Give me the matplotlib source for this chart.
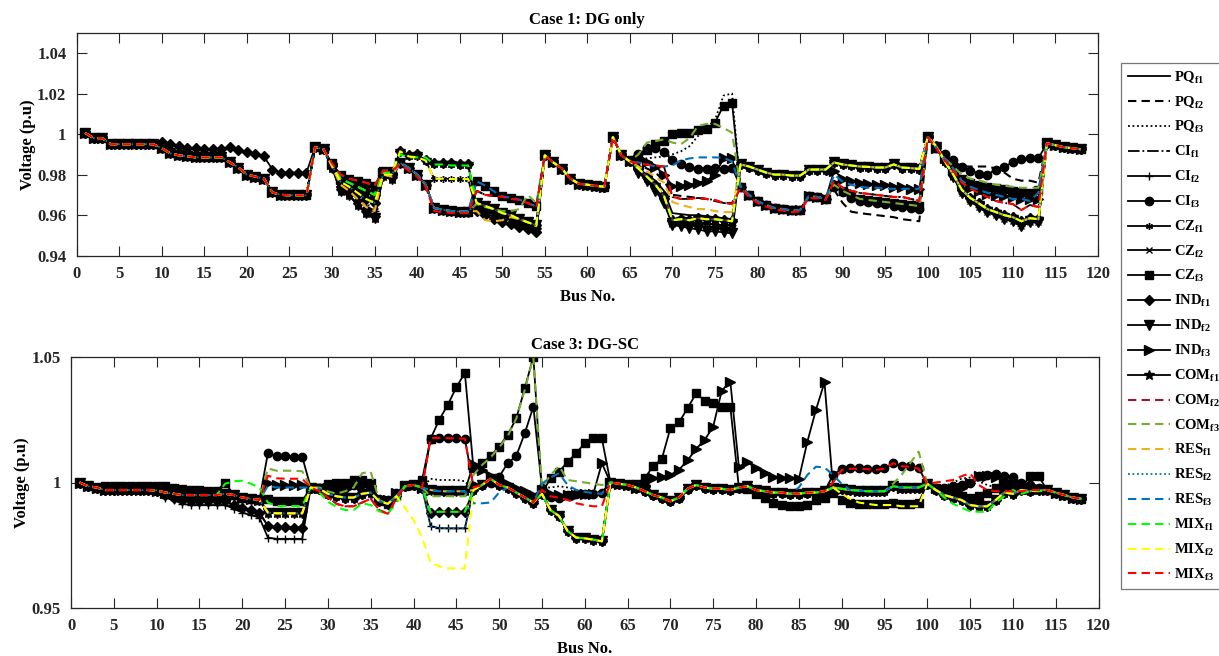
import numpy as np
import matplotlib
matplotlib.use("Agg")
import matplotlib.pyplot as plt

plt.rcParams['font.family'] = 'Liberation Serif'
plt.rcParams['font.weight'] = 'bold'
plt.rcParams['mathtext.fontset'] = 'custom'
plt.rcParams['mathtext.rm'] = 'Liberation Serif:bold'
plt.rcParams['mathtext.it'] = 'Liberation Serif:bold'
plt.rcParams['mathtext.bf'] = 'Liberation Serif:bold'

buses = np.arange(1, 119)

series_names = ['PQf1', 'PQf2', 'PQf3', 'CIf1', 'CIf2', 'CIf3', 'CZf1', 'CZf2', 'CZf3',
                'INDf1', 'INDf2', 'INDf3', 'COMf1', 'COMf2', 'COMf3',
                'RESf1', 'RESf2', 'RESf3', 'MIXf1', 'MIXf2', 'MIXf3']
legend_labels = [r'$\mathrm{PQ_{f1}}$', r'$\mathrm{PQ_{f2}}$', r'$\mathrm{PQ_{f3}}$',
                 r'$\mathrm{CI_{f1}}$', r'$\mathrm{CI_{f2}}$', r'$\mathrm{CI_{f3}}$',
                 r'$\mathrm{CZ_{f1}}$', r'$\mathrm{CZ_{f2}}$', r'$\mathrm{CZ_{f3}}$',
                 r'$\mathrm{IND_{f1}}$', r'$\mathrm{IND_{f2}}$', r'$\mathrm{IND_{f3}}$',
                 r'$\mathrm{COM_{f1}}$', r'$\mathrm{COM_{f2}}$', r'$\mathrm{COM_{f3}}$',
                 r'$\mathrm{RES_{f1}}$', r'$\mathrm{RES_{f2}}$', r'$\mathrm{RES_{f3}}$',
                 r'$\mathrm{MIX_{f1}}$', r'$\mathrm{MIX_{f2}}$', r'$\mathrm{MIX_{f3}}$']

# ---------------- Case 1: DG only ----------------
# main bundle, bus 1..118
c1_base = [
    1.0005, 0.998, 0.998, 0.995, 0.995, 0.995, 0.995, 0.995, 0.995,
    0.993, 0.9905, 0.9895, 0.989, 0.9885, 0.9885, 0.9885, 0.9885, 0.986, 0.9835,
    0.980, 0.979, 0.978, 0.9712, 0.970, 0.9698, 0.9698, 0.9698,
    0.9935, 0.9925,
    0.9845, 0.9765, 0.974, 0.971, 0.968, 0.966, 0.980, 0.980,
    0.9858, 0.9833, 0.980, 0.975, 0.9635, 0.9627, 0.962, 0.9618, 0.9618,
    0.966, 0.9645, 0.963, 0.961, 0.960, 0.958, 0.9565, 0.955,
    0.9895, 0.986, 0.983, 0.978, 0.9755, 0.975, 0.9745, 0.974, 0.9985, 0.9895, 0.9865,
    0.983, 0.980, 0.977, 0.972, 0.961, 0.9605, 0.960, 0.960, 0.9595, 0.959, 0.9585, 0.958,
    0.985, 0.984, 0.9825, 0.981, 0.980, 0.980, 0.9795, 0.9795, 0.9825, 0.9825, 0.9825,
    0.986, 0.985, 0.9845, 0.984, 0.9838, 0.9835, 0.9835, 0.985, 0.9835, 0.9832, 0.9828,
    0.9985,
    0.994, 0.9865, 0.980, 0.9725, 0.9685, 0.9658, 0.963, 0.9615, 0.960, 0.959, 0.957, 0.9585, 0.958,
    0.9955, 0.9945, 0.9935, 0.993, 0.9925,
]
# segments that differ from the bundle (key = first bus)
c1_10_ind = [0.996, 0.995, 0.994, 0.993, 0.993, 0.9925, 0.9925, 0.9925, 0.9935,
             0.992, 0.991, 0.990, 0.989, 0.9825, 0.981, 0.981, 0.981, 0.981]
c1_30_A = [0.9855, 0.980, 0.978, 0.977, 0.976, 0.9745, 0.982, 0.982]
c1_30_B = [0.985, 0.978, 0.976, 0.974, 0.972, 0.970, 0.981, 0.981]
c1_30_D = [0.984, 0.975, 0.972, 0.968, 0.964, 0.962, 0.980, 0.979]
c1_30_E = [0.9835, 0.972, 0.970, 0.965, 0.961, 0.9585, 0.9795, 0.978]
c1_38_hi = [0.9915, 0.9895, 0.990, 0.987, 0.9858, 0.9855, 0.9855, 0.985, 0.985]
c1_38_hi2 = [0.990, 0.9885, 0.9885, 0.9885, 0.985, 0.985, 0.9845, 0.9845, 0.9845]
c1_38_mid = [0.9915, 0.989, 0.9885, 0.987, 0.978, 0.978, 0.9778, 0.9778, 0.9778]
c1_38_lo2 = [0.985, 0.982, 0.979, 0.974, 0.962, 0.9615, 0.961, 0.961, 0.961]
c1_47_S1 = [0.9767, 0.9746, 0.9718, 0.9693, 0.9685, 0.9677, 0.966, 0.9643]
c1_47_S2 = [0.972, 0.970, 0.9695, 0.969, 0.968, 0.9675, 0.966, 0.964]
c1_47_S3 = [0.9655, 0.964, 0.963, 0.962, 0.962, 0.963, 0.970, 0.966]
c1_47_S5 = [0.9645, 0.963, 0.9615, 0.9595, 0.958, 0.956, 0.954, 0.9525]
c1_47_S6 = [0.962, 0.960, 0.958, 0.9565, 0.9555, 0.954, 0.953, 0.9515]
c1_47_S7 = [0.962, 0.9575, 0.957, 0.9575, 0.959, 0.958, 0.9565, 0.9545]
c1_66_sq = [0.989, 0.992, 0.995, 0.9965, 1.0, 1.0005, 1.0007, 1.002, 1.0024, 1.0057, 1.014, 1.0155]
c1_66_dot = [0.988, 0.988, 0.9885, 0.989, 0.990, 0.9915, 0.994, 0.999, 1.003, 1.007, 1.019, 1.020]
c1_66_olive = [0.990, 0.9958, 0.9965, 0.9974, 0.9958, 0.995, 0.998, 1.004, 1.005, 1.005, 1.003, 1.0007]
c1_66_circ = [0.990, 0.993, 0.993, 0.991, 0.987, 0.985, 0.984, 0.983, 0.983, 0.9835, 0.983, 0.9835]
c1_66_blue = [0.986, 0.985, 0.984, 0.984, 0.9845, 0.987, 0.988, 0.9885, 0.9885, 0.9885, 0.9883, 0.9865]
c1_66_red = [0.9855, 0.985, 0.9845, 0.984, 0.969, 0.968, 0.968, 0.9685, 0.968, 0.9675, 0.966, 0.9655]
c1_66_tri = [0.987, 0.986, 0.984, 0.980, 0.9745, 0.9745, 0.975, 0.976, 0.977, 0.980, 0.988, 0.988]
c1_66_dash = [0.985, 0.983, 0.981, 0.977, 0.970, 0.9695, 0.969, 0.9685, 0.968, 0.967, 0.966, 0.966]
c1_66_orange = [0.984, 0.9815, 0.979, 0.976, 0.9665, 0.965, 0.964, 0.963, 0.963, 0.962, 0.9615, 0.9615]
c1_66_g1 = [0.983, 0.979, 0.975, 0.9695, 0.9575, 0.958, 0.9575, 0.9585, 0.958, 0.958, 0.9575, 0.957]
c1_66_g2 = [0.982, 0.978, 0.9735, 0.968, 0.9555, 0.956, 0.9555, 0.9565, 0.956, 0.9555, 0.955, 0.955]
c1_66_g3 = [0.981, 0.977, 0.972, 0.966, 0.955, 0.9545, 0.9535, 0.953, 0.952, 0.952, 0.9515, 0.951]
c1_78_lo = [0.974, 0.970, 0.9668, 0.965, 0.9635, 0.963, 0.9623, 0.9625, 0.9693, 0.969, 0.968]
c1_78_lo2 = [0.9735, 0.969, 0.966, 0.9642, 0.9628, 0.9622, 0.9615, 0.9618, 0.9685, 0.9683, 0.9675]
c1_89_tri = [0.982, 0.978, 0.977, 0.976, 0.9755, 0.975, 0.975, 0.974, 0.974, 0.973, 0.973]
c1_89_blue = [0.980, 0.9765, 0.975, 0.974, 0.9735, 0.9735, 0.973, 0.973, 0.973, 0.973, 0.973]
c1_89_red = [0.977, 0.9735, 0.972, 0.971, 0.9705, 0.970, 0.9695, 0.969, 0.969, 0.968, 0.967]
c1_89_olive = [0.975, 0.972, 0.970, 0.968, 0.9675, 0.967, 0.9665, 0.966, 0.9655, 0.965, 0.9645]
c1_89_circ = [0.974, 0.9715, 0.9685, 0.967, 0.9665, 0.966, 0.9655, 0.9645, 0.964, 0.9635, 0.963]
c1_89_dash = [0.9725, 0.966, 0.9617, 0.961, 0.9605, 0.960, 0.9595, 0.959, 0.958, 0.9575, 0.957]
c1_101_circ = [0.993, 0.990, 0.987, 0.984, 0.982, 0.9805, 0.980, 0.9825, 0.984, 0.986, 0.9875, 0.988, 0.988]
c1_101_dash = [0.993, 0.989, 0.986, 0.984, 0.984, 0.984, 0.984, 0.983, 0.981, 0.978, 0.977, 0.977, 0.976]
c1_101_olive = [0.993, 0.988, 0.984, 0.980, 0.978, 0.977, 0.976, 0.975, 0.9745, 0.974, 0.9735, 0.9735, 0.9735]
c1_101_sq = [0.993, 0.988, 0.983, 0.978, 0.976, 0.975, 0.974, 0.9735, 0.973, 0.972, 0.9715, 0.971, 0.9725]
c1_101_blue = [0.993, 0.988, 0.983, 0.977, 0.974, 0.9725, 0.971, 0.970, 0.969, 0.968, 0.968, 0.967, 0.971]
c1_101_red = [0.993, 0.987, 0.982, 0.976, 0.973, 0.971, 0.969, 0.967, 0.966, 0.9655, 0.9625, 0.965, 0.964]
c1_101_tri = [0.993, 0.988, 0.9825, 0.976, 0.9735, 0.972, 0.9705, 0.970, 0.9695, 0.969, 0.968, 0.968, 0.968]
c1_101_low = [0.9935, 0.986, 0.979, 0.971, 0.967, 0.964, 0.9615, 0.960, 0.958, 0.957, 0.9545, 0.9565, 0.9565]

c1_edits = {
    'PQf1': {},
    'PQf2': {47: c1_47_S2, 66: c1_66_dash, 78: c1_78_lo, 89: c1_89_dash, 101: c1_101_dash},
    'PQf3': {66: c1_66_dot, 78: c1_78_lo2, 89: c1_89_red, 101: c1_101_tri},
    'CIf1': {47: c1_47_S2, 66: c1_66_red, 78: c1_78_lo2, 89: c1_89_red, 101: c1_101_red},
    'CIf2': {30: c1_30_D, 66: c1_66_g2, 101: c1_101_low},
    'CIf3': {30: c1_30_B, 66: c1_66_circ, 78: c1_78_lo, 89: c1_89_circ, 101: c1_101_circ},
    'CZf1': {30: c1_30_E, 38: c1_38_mid, 47: c1_47_S6, 66: c1_66_g2},
    'CZf2': {30: c1_30_D, 47: c1_47_S5, 66: c1_66_g2, 101: c1_101_low},
    'CZf3': {30: c1_30_A, 47: c1_47_S1, 66: c1_66_sq, 78: c1_78_lo, 89: c1_89_olive, 101: c1_101_sq},
    'INDf1': {10: c1_10_ind, 38: c1_38_hi, 47: c1_47_S6, 66: c1_66_g1},
    'INDf2': {30: c1_30_E, 66: c1_66_g3, 101: c1_101_low},
    'INDf3': {30: c1_30_B, 66: c1_66_tri, 78: c1_78_lo, 89: c1_89_tri, 101: c1_101_tri},
    'COMf1': {30: c1_30_E, 38: c1_38_hi, 47: c1_47_S5, 66: c1_66_g1},
    'COMf2': {30: c1_30_D, 66: c1_66_g1},
    'COMf3': {30: c1_30_B, 47: c1_47_S3, 66: c1_66_olive, 78: c1_78_lo, 89: c1_89_olive, 101: c1_101_olive},
    'RESf1': {30: c1_30_D, 47: c1_47_S7, 66: c1_66_orange},
    'RESf2': {66: c1_66_g1},
    'RESf3': {30: c1_30_A, 47: c1_47_S1, 66: c1_66_blue, 78: c1_78_lo, 89: c1_89_blue, 101: c1_101_blue},
    'MIXf1': {30: c1_30_B, 38: c1_38_hi2, 66: c1_66_g1},
    'MIXf2': {38: c1_38_mid, 66: c1_66_g1},
    'MIXf3': {30: c1_30_A, 38: c1_38_lo2, 47: c1_47_S2, 66: c1_66_red, 78: c1_78_lo2, 89: c1_89_red, 101: c1_101_red},
}

# ---------------- Case 3: DG-SC ----------------
c3_base = [
    1.000, 0.9985, 0.998, 0.997, 0.997, 0.997, 0.997, 0.997, 0.997, 0.9968, 0.996,
    0.9955, 0.995, 0.995, 0.995, 0.995, 0.995, 0.9955, 0.995, 0.994, 0.9935, 0.993,
    0.988, 0.9877, 0.9877, 0.9877, 0.9877,
    0.998, 0.9975, 0.9955, 0.9945, 0.994, 0.994, 0.9955, 0.996, 0.9925, 0.9915, 0.9945, 0.9985, 0.999, 0.998,
    0.997, 0.9965, 0.9965, 0.9965, 0.9965,
    0.997, 0.999, 1.0015, 0.999, 0.998, 0.996, 0.994, 0.992,
    0.9955, 0.989, 0.9866, 0.9806, 0.978, 0.9777, 0.9772, 0.9765,
    1.000, 0.9995, 0.999,
    0.998, 0.9965, 0.995, 0.994, 0.9925, 0.994, 0.9975, 0.999, 0.998, 0.9975, 0.9975, 0.997,
    0.998, 0.9985, 0.997, 0.9965, 0.996, 0.996, 0.9955, 0.9955, 0.996, 0.996, 0.9965,
    0.998, 0.9975, 0.997, 0.9968, 0.9965, 0.9965, 0.9965, 0.9985, 0.998, 0.998, 0.998,
    0.9995,
    0.997, 0.995, 0.994, 0.993, 0.991, 0.9905, 0.9905, 0.993, 0.996, 0.9955, 0.997, 0.9965, 0.997,
    0.997, 0.996, 0.995, 0.994, 0.9935,
]
c3_4_sq = [0.9987, 0.9987, 0.9987, 0.9987, 0.9987, 0.9987, 0.9988, 0.9985, 0.998,
           0.9975, 0.997, 0.997, 0.9968, 0.9965, 1.0]
c3_10_low = [0.9962, 0.994, 0.993, 0.9915, 0.991, 0.991, 0.991, 0.991, 0.991, 0.9895, 0.988, 0.987, 0.986]
c3_10_low2 = [0.9965, 0.995, 0.994, 0.993, 0.9925, 0.9925, 0.9925, 0.9925, 0.9925, 0.991, 0.990, 0.989, 0.988]
c3_18_green = [0.9995, 1.0005, 1.0007, 0.9995, 0.998]
c3_23_circ = [1.0118, 1.0105, 1.0105, 1.0103, 1.0103]
c3_23_olive = [1.0056, 1.0047, 1.0047, 1.0047, 1.0045]
c3_23_red = [1.0027, 1.0017, 1.0015, 1.0015, 1.0015]
c3_23_tri = [1.0, 0.999, 0.999, 0.999, 0.999]
c3_23_blue = [0.9987, 0.998, 0.998, 0.998, 0.998]
c3_23_sq = [0.9936, 0.9926, 0.9926, 0.9926, 0.9926]
c3_23_green = [0.992, 0.9906, 0.9906, 0.9906, 0.9906]
c3_23_dia = [0.9826, 0.9822, 0.9822, 0.982, 0.982]
c3_23_plus = [0.978, 0.9775, 0.9775, 0.9775, 0.9775]
c3_29_sq = [0.998, 0.9995, 0.9997, 1.0, 1.001, 1.001, 1.0]
c3_29_olive = [0.998, 0.9965, 0.9955, 0.9965, 0.998, 1.0037, 1.0043, 0.993]
c3_29_green = [0.996, 0.9923, 0.9903, 0.989, 0.989, 0.9917, 0.991, 0.9885, 0.9875, 0.992]
c3_29_maroon = [0.9965, 0.994, 0.9915, 0.9905, 0.9905, 0.992, 0.9935, 0.989, 0.9875, 0.9935]
c3_29_hi = [0.998, 0.998, 0.9975, 0.998, 0.999, 0.9995, 0.9985, 0.9935, 0.993, 0.996]
c3_38_yellow = [0.9945, 0.990, 0.985, 0.978, 0.968, 0.9665, 0.9657, 0.9657, 0.9657]
c3_41_sq = [1.001, 1.0175, 1.025, 1.031, 1.038, 1.0438, 1.0057, 1.0077, 1.0105, 1.0143, 1.019,
            1.0256, 1.0376, 1.0503, 0.9957, 1.0017, 1.0043, 1.0083, 1.0117, 1.0157, 1.0177, 1.0176]
c3_42_circ = [1.0175, 1.0178, 1.0178, 1.0177, 1.0175, 0.9985, 0.999, 1.0, 1.0023, 1.0077, 1.0106,
              1.0197, 1.0303, 0.998, 0.9943, 0.9937, 0.995, 0.9955, 0.9955, 0.9955, 0.9957]
c3_42_red = [1.0178, 1.0178, 1.0177, 1.0176, 1.0175, 0.998]
c3_42_dot = [1.0015, 1.001, 1.001, 1.001, 1.0005]
c3_42_olive = [0.9945, 0.9945, 0.9945, 0.9945, 0.9945, 1.003, 1.007, 1.010, 1.014, 1.0185, 1.0255,
               1.037, 1.050, 0.998, 1.003, 1.0065, 1.001, 1.0005, 1.0, 0.9995, 0.999]
c3_42_green = [0.988, 0.9883, 0.9883, 0.9883, 0.9883]
c3_42_plus = [0.9825, 0.9818, 0.9817, 0.9817, 0.9817]
c3_47_blue = [0.9917, 0.9917, 0.992, 0.996]
c3_47_tri = [1.0075, 1.005, 1.0025, 1.0005, 0.9995, 0.998, 0.9965, 0.995,
             0.997, 0.9955, 0.995, 0.995, 0.9952, 0.9955, 0.9955, 1.0077]
c3_55_red = [0.997, 0.9945, 0.994, 0.993, 0.9917, 0.991, 0.9905, 0.9905]
c3_55_blue = [0.9995, 1.002, 1.0037, 0.999, 0.997, 0.9963, 0.9957, 0.9955]
c3_55_dot = [0.998, 0.998, 0.9985, 0.998, 0.997, 0.9965, 0.996, 0.996]
c3_66_sq = [0.9995, 1.0017, 1.0066, 1.0094, 1.0217, 1.024, 1.0296, 1.0356, 1.0327, 1.0319, 1.0303, 1.0303,
            0.998, 0.9975, 0.9955, 0.994, 0.992, 0.991, 0.9908, 0.9908, 0.991, 0.993, 0.994,
            0.996, 0.993, 0.9917, 0.9915, 0.9915, 0.9915, 0.9915, 0.992, 0.9915, 0.9915, 0.992]
c3_66_tri = [0.998, 0.999, 1.0017, 1.0023, 1.003, 1.0051, 1.0088, 1.0134, 1.017, 1.0223, 1.0367, 1.0403,
             1.0063, 1.0083, 1.0056, 1.0037, 1.0023, 1.0017, 1.0017, 1.0013, 1.0163, 1.029, 1.040]
c3_85_blue = [0.998, 1.003, 1.0063, 1.006, 1.003, 0.9995]
c3_89_circ = [1.003, 1.0055, 1.0057, 1.0057, 1.0055, 1.0053, 1.0057, 1.0077, 1.0067, 1.0065, 1.0057]
c3_89_red = [1.0, 1.005, 1.0055, 1.0055, 1.0053, 1.005, 1.0055, 1.0077, 1.0065, 1.0063, 1.0055]
c3_90_yellow = [0.9955, 0.9935, 0.992, 0.9915, 0.991, 0.991, 0.991, 0.9905, 0.9905, 0.9905]
c3_96_olive = [0.9995, 1.003, 1.0077, 1.0123]
c3_101_circ = [0.998, 0.998, 0.9985, 0.999, 1.0, 1.0025, 1.003, 1.0035, 1.0025, 1.002, 1.0, 0.999, 0.998]
c3_101_sq = [0.998, 0.996, 0.995, 0.9945, 0.994, 0.9945, 0.996, 0.998, 0.9985, 0.999, 0.998, 1.0025, 1.0025]
c3_101_tri = [0.998, 0.997, 0.997, 0.998, 1.0, 1.0025, 1.0025, 1.002, 1.001, 0.999, 0.998, 0.9975, 0.9975]
c3_101_red = [1.0, 1.0005, 1.001, 1.0025, 1.0037, 0.999, 0.997, 0.9965, 0.9965, 0.9965, 0.9965, 0.997, 0.997]
c3_101_dot = [0.998, 0.9985, 1.0, 1.0015, 1.002, 1.0005, 0.999, 0.998, 0.998, 0.997, 0.997, 0.997, 0.997]
c3_101_green = [0.997, 0.994, 0.9915, 0.990, 0.9885, 0.9883, 0.9883, 0.992, 0.9945, 0.997, 0.9955, 0.9965, 0.9965]

c3_edits = {
    'PQf1': {},
    'PQf2': {},
    'PQf3': {42: c3_42_dot, 55: c3_55_dot, 101: c3_101_dot},
    'CIf1': {},
    'CIf2': {10: c3_10_low, 23: c3_23_plus, 42: c3_42_plus},
    'CIf3': {23: c3_23_circ, 29: c3_29_hi, 42: c3_42_circ, 89: c3_89_circ, 101: c3_101_circ},
    'CZf1': {10: c3_10_low2, 23: c3_23_dia},
    'CZf2': {},
    'CZf3': {4: c3_4_sq, 23: c3_23_sq, 29: c3_29_sq, 41: c3_41_sq, 66: c3_66_sq, 101: c3_101_sq},
    'INDf1': {10: c3_10_low2, 23: c3_23_dia, 42: c3_42_green},
    'INDf2': {},
    'INDf3': {23: c3_23_tri, 29: c3_29_hi, 47: c3_47_tri, 66: c3_66_tri, 101: c3_101_tri},
    'COMf1': {},
    'COMf2': {29: c3_29_maroon, 42: c3_42_green},
    'COMf3': {23: c3_23_olive, 29: c3_29_olive, 42: c3_42_olive, 96: c3_96_olive},
    'RESf1': {},
    'RESf2': {42: c3_42_plus},
    'RESf3': {23: c3_23_blue, 47: c3_47_blue, 55: c3_55_blue, 85: c3_85_blue},
    'MIXf1': {18: c3_18_green, 23: c3_23_green, 29: c3_29_green, 42: c3_42_green, 101: c3_101_green},
    'MIXf2': {38: c3_38_yellow, 90: c3_90_yellow},
    'MIXf3': {23: c3_23_red, 29: c3_29_maroon, 42: c3_42_red, 55: c3_55_red, 89: c3_89_red, 101: c3_101_red},
}

# line styles (colour, linestyle, marker, marker size)
asterisk = (6, 2, 0)
styles = {
    'PQf1': ('k', '-', None, 0), 'PQf2': ('k', '--', None, 0), 'PQf3': ('k', ':', None, 0),
    'CIf1': ('k', '-.', None, 0), 'CIf2': ('k', '-', '+', 6), 'CIf3': ('k', '-', 'o', 6),
    'CZf1': ('k', '-', asterisk, 5), 'CZf2': ('k', '-', 'x', 4), 'CZf3': ('k', '-', 's', 6),
    'INDf1': ('k', '-', 'D', 5.5), 'INDf2': ('k', '-', 'v', 6.5), 'INDf3': ('k', '-', '>', 6.5),
    'COMf1': ('k', '-', '*', 7.5), 'COMf2': ('#A2142F', '--', None, 0), 'COMf3': ('#77AC30', '--', None, 0),
    'RESf1': ('#EDB120', '--', None, 0), 'RESf2': ('#0072BD', ':', None, 0), 'RESf3': ('#0072BD', '--', None, 0),
    'MIXf1': ('#00FF00', '--', None, 0), 'MIXf2': ('#FFFF00', '--', None, 0), 'MIXf3': ('#FF0000', '--', None, 0),
}


def build(base, edits):
    v = np.array(base, dtype=float)
    for start, seg in edits.items():
        v[start - 1:start - 1 + len(seg)] = seg
    return v


def draw(ax, base, edits):
    handles = []
    for name in series_names:
        col, ls, mk, ms = styles[name]
        y = build(base, edits[name])
        kw = dict(color=col, lw=1.3)
        if ls == '--':
            kw['dashes'] = (4, 2.5)
            kw['lw'] = 1.5
        elif ls == ':':
            kw['dashes'] = (1, 1.5)
        else:
            kw['linestyle'] = ls
        if mk is not None:
            kw.update(marker=mk, markersize=ms, markerfacecolor='k', markeredgecolor='k', markeredgewidth=1)
        h, = ax.plot(buses, y, **kw)
        handles.append(h)
    return handles


fig = plt.figure(figsize=(12.19, 6.56), dpi=100)
ax1 = fig.add_axes([76.7 / 1219, 1 - 255.7 / 656, (1098 - 76.7) / 1219, 223 / 656])
ax2 = fig.add_axes([71 / 1219, 1 - 607.7 / 656, (1098.5 - 71) / 1219, 250.4 / 656])

handles = draw(ax1, c1_base, c1_edits)
draw(ax2, c3_base, c3_edits)

for ax in (ax1, ax2):
    ax.set_xlim(0, 120)
    ax.set_xticks(np.arange(0, 121, 5))
    ax.tick_params(direction='in', length=7, width=0.8, top=True, right=True, labelsize=12,
                   colors='#262626', pad=7.5)
    for sp in ax.spines.values():
        sp.set_color('#262626')
        sp.set_linewidth(0.9)
    ax.set_xlabel('Bus No.', fontsize=12, fontweight='bold', labelpad=5)
    ax.set_ylabel('Voltage (p.u)', fontsize=12, fontweight='bold', labelpad=1)

ax1.set_ylim(0.94, 1.05)
ax1.set_yticks([0.94, 0.96, 0.98, 1.0, 1.02, 1.04])
ax1.set_yticklabels(['0.94', '0.96', '0.98', '1', '1.02', '1.04'])
ax1.set_title('Case 1: DG only', fontsize=12, fontweight='bold', pad=6)

ax2.set_ylim(0.95, 1.05)
ax2.set_yticks([0.95, 1.0, 1.05])
ax2.set_yticklabels(['0.95', '1', '1.05'])
ax2.set_title('Case 3: DG-SC', fontsize=12, fontweight='bold', pad=6)

leg = fig.legend(handles, legend_labels, loc='upper left', bbox_to_anchor=(1121 / 1219, 1 - 63 / 656),
                 frameon=True, fancybox=False, fontsize=10.5, handlelength=2.9, labelspacing=0.6,
                 borderaxespad=0, borderpad=0.45, handletextpad=0.25, numpoints=1)
leg.get_frame().set_edgecolor('#555555')
leg.get_frame().set_linewidth(0.9)

fig.savefig('out.png', dpi=100)
